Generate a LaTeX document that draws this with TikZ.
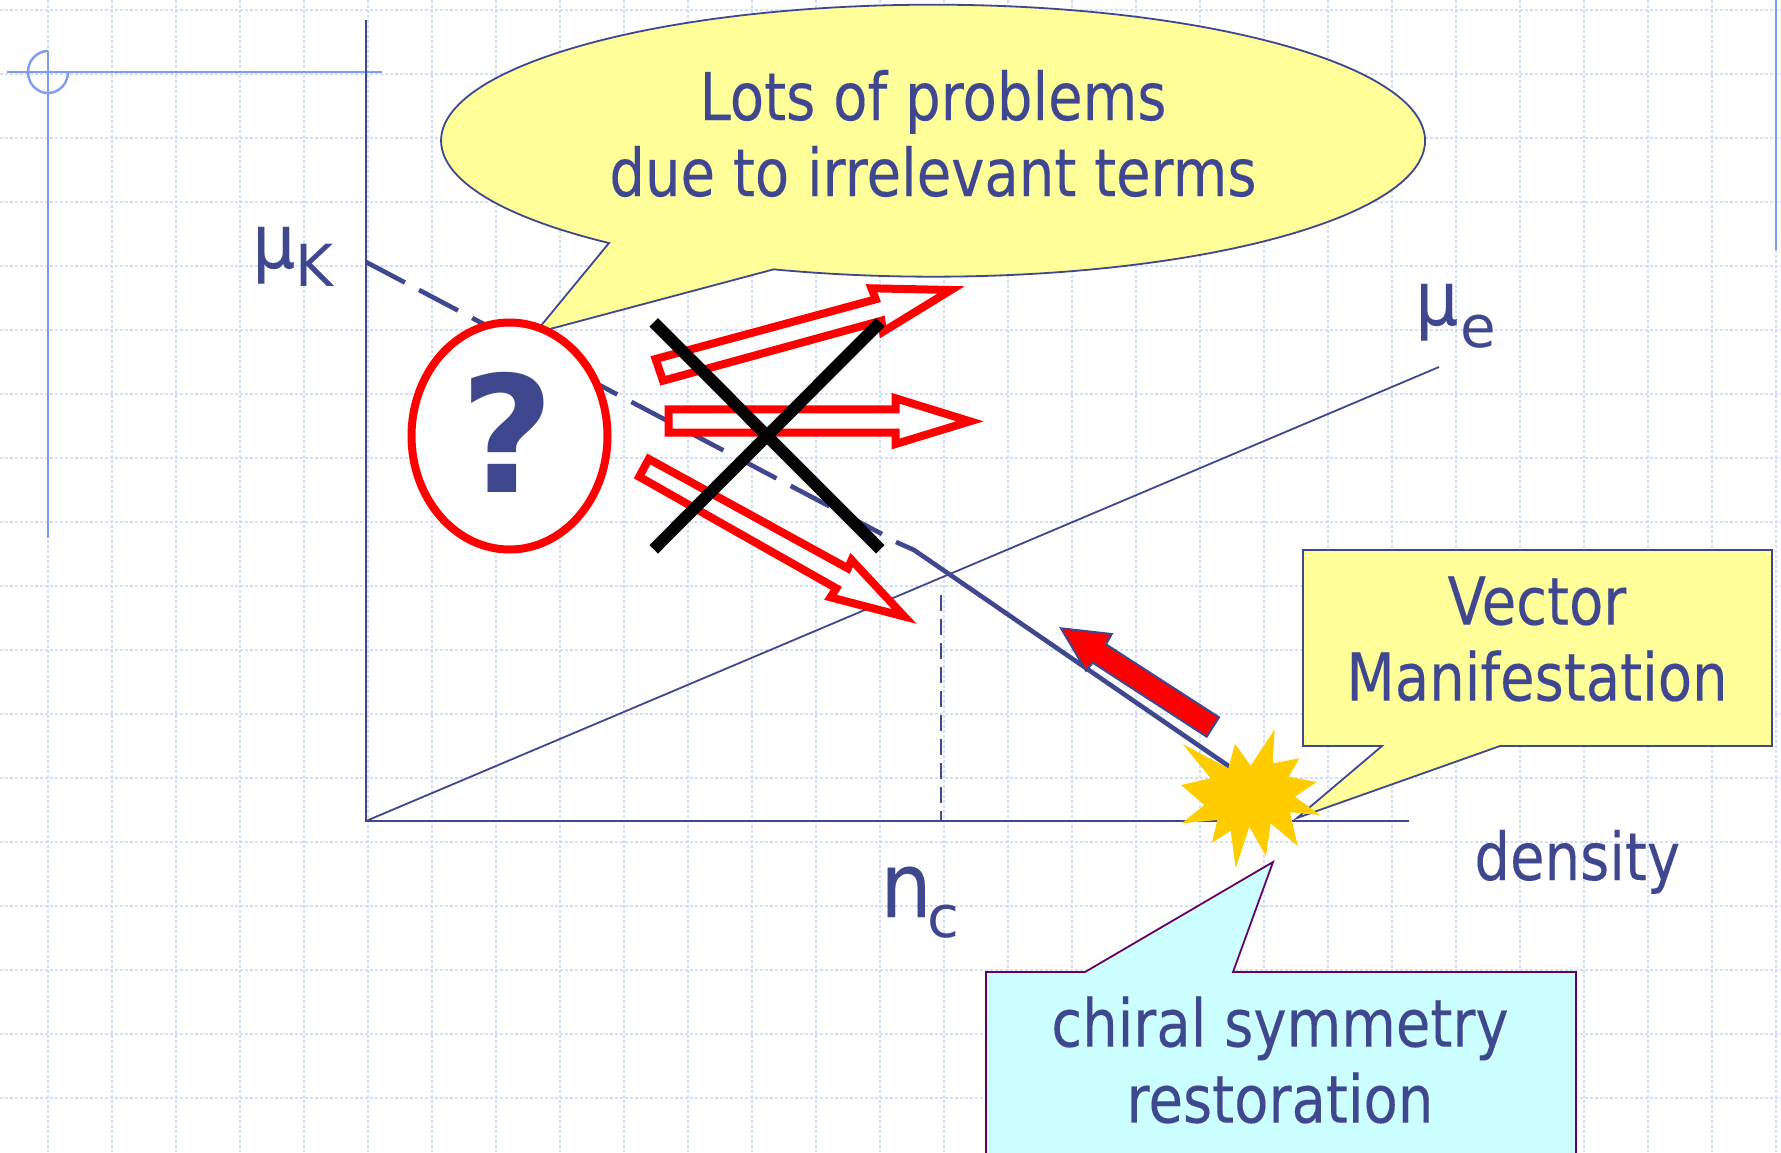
\documentclass[tikz,border=0pt]{standalone}
\usepackage{fontspec}
\setmainfont{DejaVu Sans}[FakeStretch=0.85, FakeBold=0.15]
\newfontfamily\symfont{DejaVu Sans}[FakeStretch=0.9, FakeBold=0.15]
\newfontfamily\subfont{DejaVu Sans}
\usepackage{xcolor}
\usetikzlibrary{shapes.geometric}
\definecolor{navy}{HTML}{3F478F}
\definecolor{gridblue}{HTML}{D3DEF8}
\definecolor{markblue}{HTML}{7F9BF5}
\definecolor{noteyellow}{HTML}{FFFF99}
\definecolor{notecyan}{HTML}{CCFFFF}
\definecolor{notepurple}{HTML}{660066}
\definecolor{staryellow}{HTML}{FFCC00}
\newcommand{\lowered}[2]{\raisebox{#1}{\subfont\fontsize{29}{29}\selectfont #2}}
\begin{document}
\begin{tikzpicture}[x=0.5pt, y=-0.5pt]
\tikzstyle{gridline} = [gridblue, line width=0.7pt, dash pattern=on 1.5pt off 1pt]
\tikzstyle{regmark} = [markblue, line width=1.2pt]
\tikzstyle{axis} = [navy, line width=1.3pt]
\tikzstyle{curve} = [navy, line width=2.3pt]
\tikzstyle{note} = [navy, line width=0.9pt]
\tikzstyle{hollow} = [red, line width=4pt, fill=white, miter limit=10]
\tikzstyle{cross} = [black, line width=6pt]
\tikzstyle{label} = [navy, inner sep=0pt, font=\fontsize{33}{38}\selectfont, align=center]
\clip (0,0) rectangle (1781,1152);
\fill[white] (0,0) rectangle (1781,1152);
\foreach \gx in {0,...,27} \draw[gridline] (48+64*\gx,0) -- (48+64*\gx,1152);
\foreach \gy in {0,...,17} \draw[gridline] (0,10+64*\gy) -- (1781,10+64*\gy);
\coordinate (markW) at (7,72);
\coordinate (markE) at (382,72);
\coordinate (markN) at (48,51);
\coordinate (markS) at (48,538);
\coordinate (edgeT) at (1776,0);
\coordinate (edgeB) at (1776,250);
\draw[regmark] (markW) -- (markE);
\draw[regmark] (markN) -- (markS);
\draw[regmark] (markN) arc[start angle=270, delta angle=-270, x radius=20, y radius=21];
\draw[regmark] (edgeT) -- (edgeB);
\coordinate (origin) at (366,821);
\coordinate (top) at (366,20);
\coordinate (right) at (1409,821);
\coordinate (eEnd) at (1439,367);
\coordinate (kStart) at (366,262);
\coordinate (kDash) at (882,534);
\coordinate (kSolid) at (896,542);
\coordinate (kBend) at (914,550);
\coordinate (kEnd) at (1230,767);
\coordinate (crit) at (941,595);
\draw[axis] (top) -- (origin) -- (right);
\draw[note] (origin) -- (eEnd);
\draw[curve, dash pattern=on 22pt off 8pt] (kStart) -- (kDash);
\draw[curve] (kSolid) -- (kBend) -- (kEnd);
\draw[note, dash pattern=on 8pt off 4pt] (crit) -- (crit |- origin);
\draw[note, fill=noteyellow] (609,243) arc[start angle=131.2, end angle=468.9, x radius=492, y radius=136] -- (535,333) -- cycle;
\node[label] (problems) at (933,133.5) {Lots of problems\\due to irrelevant terms};
\draw[note, fill=noteyellow] (1303,550) -- (1772,550) -- (1772,746) -- (1500,746) -- (1297,818) -- (1382,746) -- (1303,746) -- cycle;
\node[label] (vector) at (1537,639) {Vector\\Manifestation};
\draw[notepurple, line width=0.9pt, fill=notecyan] (986,972) -- (1085,972) -- (1273,862) -- (1233,972) -- (1576,972) -- (1576,1170) -- (986,1170) -- cycle;
\node[label] (chiral) at (1280,1060) {chiral symmetry\\restoration};
\node[label, anchor=base west] (density) at (1474,880) {density};
\node[label, anchor=base west] (muK) at (252,268) {\symfont\fontsize{37.5}{37.5}\selectfont μ\lowered{-9pt}{K}};
\node[label, anchor=base west] (muE) at (1415,325) {\symfont\fontsize{37.5}{37.5}\selectfont μ\kern1pt\lowered{-11pt}{e}};
\node[label, anchor=base west] (nC) at (880,917) {\symfont\fontsize{45}{45}\selectfont n\kern-2pt\lowered{-10pt}{c}};
\node[draw=red, line width=4pt, fill=white, ellipse, minimum width=98pt, minimum height=113.5pt, inner sep=0pt] (question) at (509.5,436) {};
\node[navy, inner sep=0pt, font=\subfont\fontsize{81}{81}\selectfont\bfseries] (qmark) at (507,432.5) {?};
\draw[hollow] (655.6,359) -- (875.7,299.3) -- (871.5,288.3) -- (951,290) -- (883,331.7) -- (881.4,320.7) -- (663,380.7) -- cycle;
\draw[hollow] (668.7,409.3) -- (895.6,409.3) -- (895.6,398.3) -- (970,421.3) -- (895.6,444) -- (895.6,432.7) -- (668.7,432.7) -- cycle;
\draw[hollow] (648.8,459) -- (847.8,568.3) -- (851.6,560) -- (904.3,616.5) -- (830.5,597.3) -- (836.3,588.3) -- (639.2,476.7) -- cycle;
\coordinate (crossA) at (653.7,322.3);
\coordinate (crossB) at (880.3,549.3);
\coordinate (crossC) at (653.7,549.3);
\coordinate (crossD) at (880.3,322.3);
\draw[cross] (crossA) -- (crossB);
\draw[cross] (crossC) -- (crossD);
\draw[navy, line width=1pt, fill=red] (1219,717.3) -- (1106,644.3) -- (1111.7,634) -- (1061,628.3) -- (1086,670.7) -- (1092.7,662.7) -- (1206.7,736.7) -- cycle;
\fill[staryellow] (1182.7,744) -- (1228.3,768.3) -- (1235,744) -- (1250.7,765.7) -- (1274.7,729.3) -- (1272.7,763.3) -- (1299.3,758.3) -- (1288.7,776.7) -- (1316.7,782) -- (1295,796.7) -- (1320,815) -- (1290,812.3) -- (1297.7,846) -- (1270.7,823.3) -- (1266,856) -- (1249.3,826.7) -- (1235.7,868.3) -- (1230.7,830.7) -- (1212,842.7) -- (1217.3,820) -- (1181.7,823.3) -- (1204.3,805) -- (1181,785) -- (1210.7,778.3) -- cycle;
\end{tikzpicture}
\end{document}
